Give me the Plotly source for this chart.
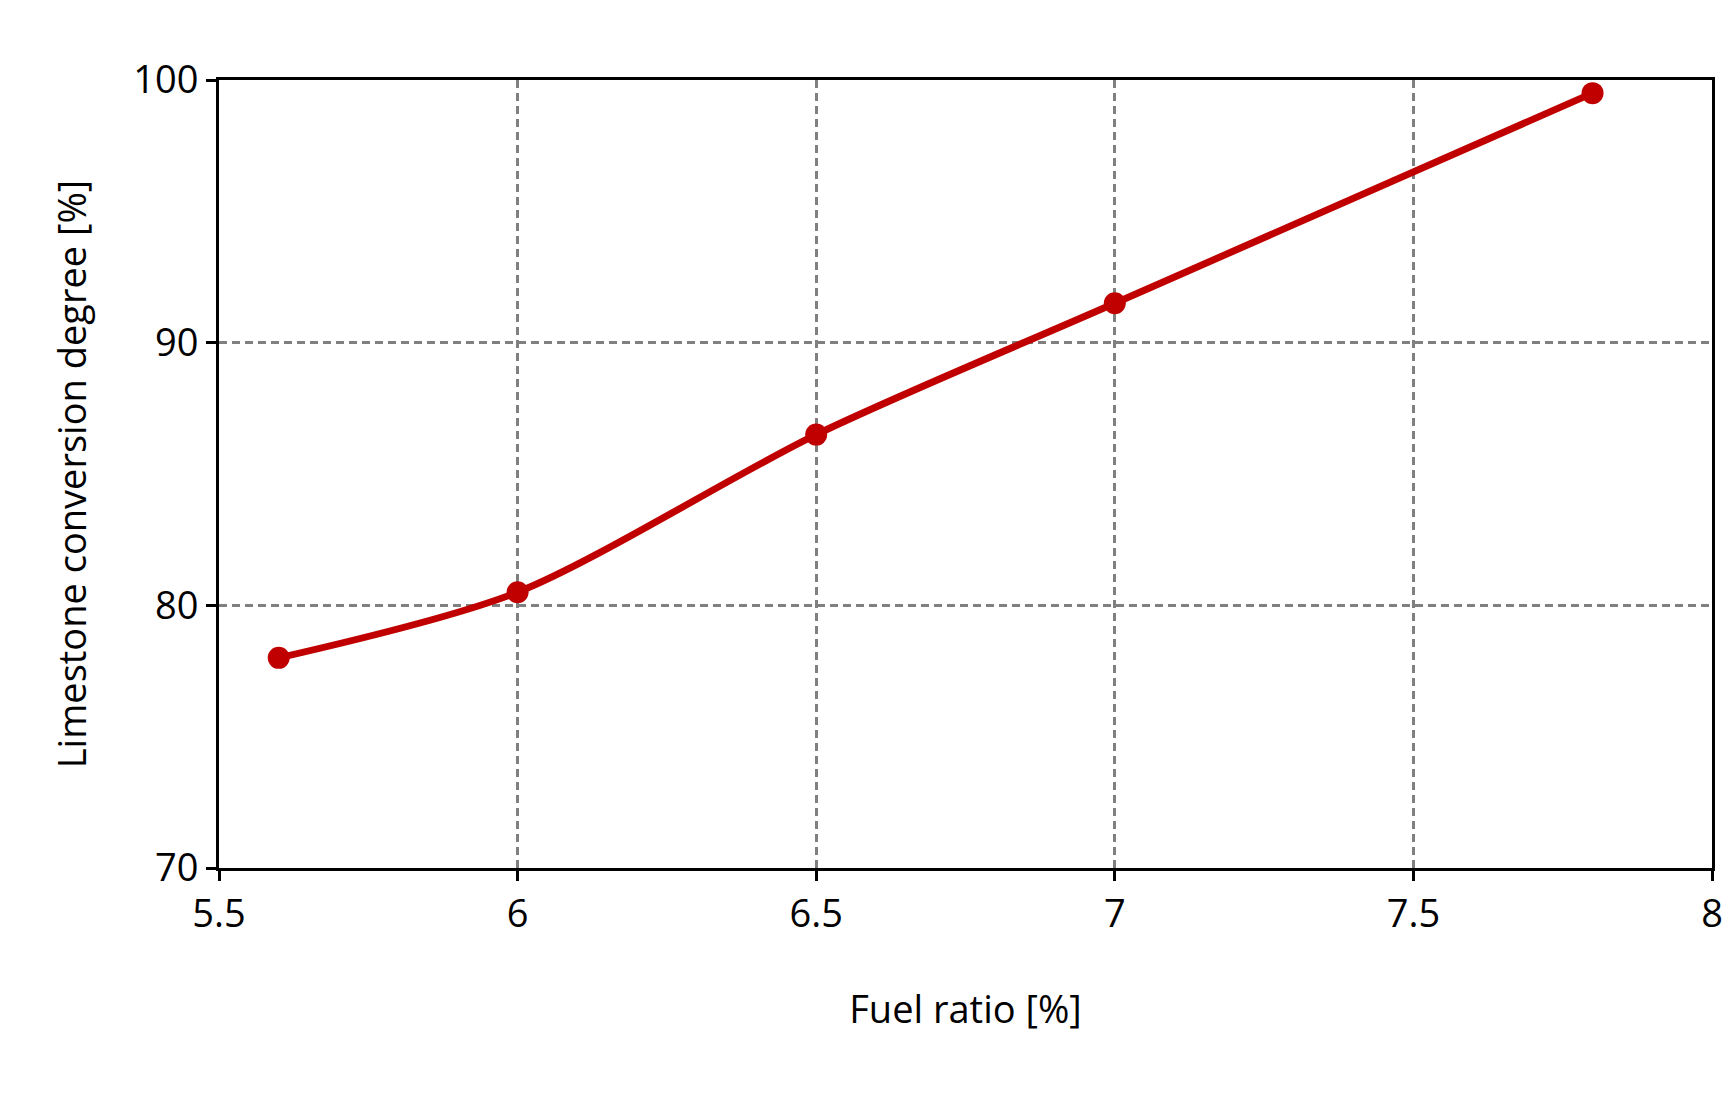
import plotly.graph_objects as go

fuel_ratio = [5.6, 6.0, 6.5, 7.0, 7.8]
conversion = [78.0, 80.5, 86.5, 91.5, 99.5]

x_ticks = [5.5, 6, 6.5, 7, 7.5, 8]
y_ticks = [70, 80, 90, 100]

red = "#C00000"
font = "Open Sans, Liberation Sans, sans-serif"

fig = go.Figure()
fig.add_trace(
    go.Scatter(
        x=fuel_ratio,
        y=conversion,
        mode="lines+markers",
        line={"color": red, "width": 7, "shape": "spline", "smoothing": 0.8},
        marker={"color": red, "size": 22},
        showlegend=False,
    )
)

axis_common = dict(
    showline=True,
    linecolor="black",
    linewidth=3,
    mirror=True,
    showgrid=True,
    gridcolor="#808080",
    gridwidth=2.5,
    griddash="8px,5px",
    zeroline=False,
    ticks="outside",
    ticklen=10,
    tickwidth=2.5,
    tickcolor="black",
    tickfont={"size": 38, "color": "black", "family": font},
)

fig.update_xaxes(
    range=[5.5, 8],
    tickvals=x_ticks,
    ticktext=[str(v) for v in x_ticks],
    title={"text": "Fuel ratio [%]", "font": {"size": 38, "color": "black", "family": font}, "standoff": 60},
    **axis_common,
)
fig.update_yaxes(
    range=[70, 100],
    tickvals=y_ticks,
    title={"text": "Limestone conversion degree [%]", "font": {"size": 38, "color": "black", "family": font}, "standoff": 35},
    **axis_common,
)

fig.update_layout(
    width=1736,
    height=1093,
    margin={"l": 211, "r": 32, "t": 72, "b": 233},
    plot_bgcolor="white",
    paper_bgcolor="white",
)

fig.write_html("out.html")
